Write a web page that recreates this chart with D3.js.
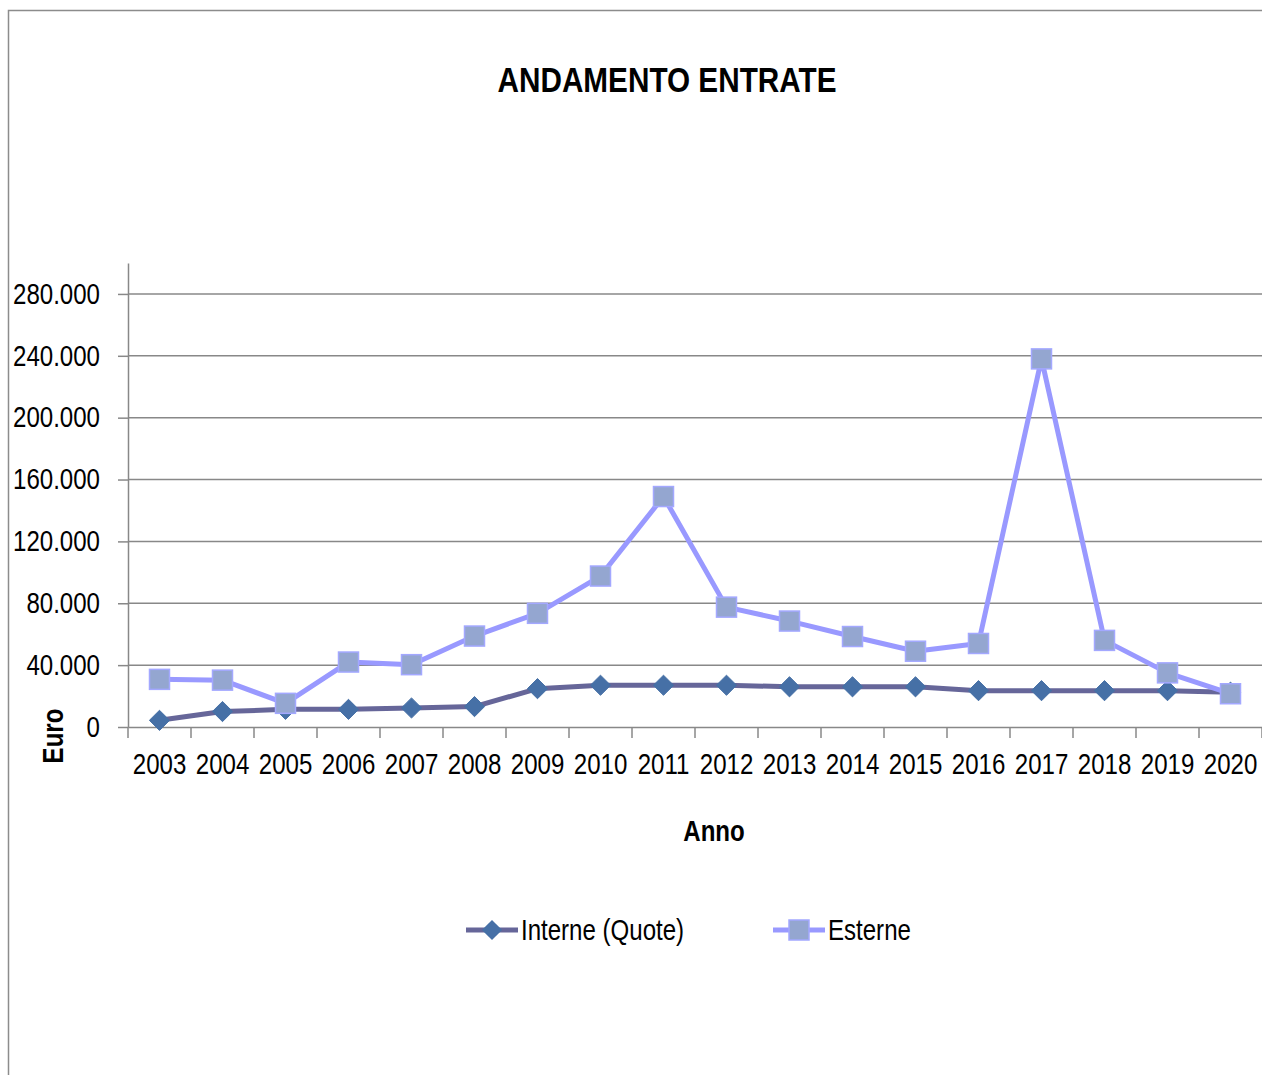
<!DOCTYPE html>
<html>
<head>
<meta charset="utf-8">
<script src="https://cdn.jsdelivr.net/npm/d3@7"></script>
<style>
  html, body { margin: 0; padding: 0; background: #fff; }
  svg { display: block; }
  text { font-family: "Liberation Sans", Arial, sans-serif; fill: #000; }
</style>
</head>
<body>
<svg id="chart" width="1262" height="1075"></svg>
<script>
const title = "ANDAMENTO ENTRATE";
const xTitle = "Anno";
const yTitle = "Euro";
const years = ["2003","2004","2005","2006","2007","2008","2009","2010","2011","2012","2013","2014","2015","2016","2017","2018","2019","2020"];
const interne = [4300, 10000, 11400, 11400, 12300, 13200, 24800, 27000, 27000, 27000, 26000, 26000, 26000, 23500, 23500, 23500, 23500, 22500];
const esterne = [30800, 30300, 15300, 42000, 40300, 58800, 73500, 97600, 149000, 77500, 68500, 58500, 49000, 54000, 238000, 56000, 35000, 21500];
const yTicks = [0, 40000, 80000, 120000, 160000, 200000, 240000, 280000];
const seriesNames = ["Interne (Quote)", "Esterne"];

const SX = 0.83; // horizontal condensation to mimic Arial Narrow
const FS = 29;
const svg = d3.select("#chart");
const m = { left: 128, right: 1262, top: 263, bottom: 727 };

// outer frame
svg.append("path")
  .attr("d", `M8.5,1075 V10.5 H1262`)
  .attr("fill", "none").attr("stroke", "#8c8c8c").attr("stroke-width", 1.5);

const x = d3.scaleBand().domain(years).range([m.left, m.right]).padding(0);
const y = d3.scaleLinear().domain([0, 300000]).range([m.bottom, m.top]);

const it = d3.formatLocale({ decimal: ",", thousands: ".", grouping: [3], currency: ["€", ""] });
const fmt = it.format(",.0f");

function condense(sel) {
  sel.each(function () {
    const t = d3.select(this);
    const xv = +t.attr("x") || 0;
    t.attr("x", xv / SX).attr("transform", `scale(${SX},1)`);
  });
}
function narrowText(parent, px, py, str, opts = {}) {
  const t = parent.append("text")
    .attr("transform", `translate(${px},${py})${opts.rotate ? ` rotate(${opts.rotate})` : ""} scale(${SX},1)`)
    .attr("text-anchor", opts.anchor || "start")
    .attr("font-size", opts.size || FS)
    .text(str);
  if (opts.bold) t.attr("font-weight", "bold");
  return t;
}

// gridlines
svg.append("g").selectAll("line").data(yTicks.filter(d => d > 0)).join("line")
  .attr("x1", m.left).attr("x2", m.right)
  .attr("y1", d => y(d)).attr("y2", d => y(d))
  .attr("stroke", "#888").attr("stroke-width", 1.5);

// y axis
const yAxis = svg.append("g").attr("transform", `translate(${m.left},0)`)
  .call(d3.axisLeft(y).tickValues(yTicks).tickFormat(fmt).tickSize(10).tickSizeOuter(0).tickPadding(18));
yAxis.select(".domain").attr("stroke", "#888").attr("stroke-width", 1.5);
yAxis.selectAll(".tick line").attr("stroke", "#888").attr("stroke-width", 1.5);
yAxis.selectAll(".tick text").attr("font-size", FS).attr("fill", "#000")
  .style("font-family", '"Liberation Sans", Arial, sans-serif').call(condense);

// x axis
const xAxis = svg.append("g").attr("transform", `translate(0,${m.bottom})`)
  .call(d3.axisBottom(x).tickSize(0).tickPadding(26));
xAxis.select(".domain").attr("stroke", "#888").attr("stroke-width", 1.5);
xAxis.selectAll(".tick text").attr("font-size", FS).attr("fill", "#000")
  .style("font-family", '"Liberation Sans", Arial, sans-serif').call(condense);
// category boundary ticks
svg.append("g").selectAll("line").data(d3.range(years.length + 1)).join("line")
  .attr("x1", i => m.left + i * x.step()).attr("x2", i => m.left + i * x.step())
  .attr("y1", m.bottom).attr("y2", m.bottom + 11)
  .attr("stroke", "#888").attr("stroke-width", 1.5);

const cx = d => x(d) + x.bandwidth() / 2;
const line = d3.line().x(d => cx(d[0])).y(d => y(d[1]));

const intData = years.map((yr, i) => [yr, interne[i]]);
const estData = years.map((yr, i) => [yr, esterne[i]]);

// Interne line + diamonds
svg.append("path").datum(intData).attr("d", line)
  .attr("fill", "none").attr("stroke", "#666699").attr("stroke-width", 5).attr("stroke-linejoin", "round");
const diamond = d3.symbol().type(d3.symbolDiamond2).size(260);
svg.append("g").selectAll("path").data(intData).join("path")
  .attr("transform", d => `translate(${cx(d[0])},${y(d[1])})`)
  .attr("d", diamond).attr("fill", "#4670a6").attr("stroke", "#4670a6").attr("stroke-width", 1);

// Esterne line + squares
svg.append("path").datum(estData).attr("d", line)
  .attr("fill", "none").attr("stroke", "#9999ff").attr("stroke-width", 5).attr("stroke-linejoin", "round");
svg.append("g").selectAll("rect").data(estData).join("rect")
  .attr("x", d => cx(d[0]) - 10).attr("y", d => y(d[1]) - 10)
  .attr("width", 20).attr("height", 20)
  .attr("fill", "#94a6d0").attr("stroke", "#a3a8ff").attr("stroke-width", 1.5);

// title
svg.append("text").attr("x", 667).attr("y", 92).attr("text-anchor", "middle")
  .attr("font-size", 35).attr("font-weight", "bold")
  .attr("textLength", 339).attr("lengthAdjust", "spacingAndGlyphs")
  .text(title);

// axis titles
narrowText(svg, 714, 841, xTitle, { anchor: "middle", bold: true });
narrowText(svg, 63, 736, yTitle, { anchor: "middle", bold: true, rotate: -90 });

// legend
const legItems = [
  { name: seriesNames[0], x0: 466, stroke: "#666699", mark: "diamond" },
  { name: seriesNames[1], x0: 773, stroke: "#9999ff", mark: "square" }
];
legItems.forEach(li => {
  const g = svg.append("g");
  g.append("line").attr("x1", li.x0).attr("x2", li.x0 + 52).attr("y1", 930).attr("y2", 930)
    .attr("stroke", li.stroke).attr("stroke-width", 5);
  if (li.mark === "diamond") {
    g.append("path").attr("transform", `translate(${li.x0 + 26},930)`).attr("d", diamond)
      .attr("fill", "#4670a6");
  } else {
    g.append("rect").attr("x", li.x0 + 16).attr("y", 920).attr("width", 20).attr("height", 20)
      .attr("fill", "#94a6d0").attr("stroke", "#a3a8ff").attr("stroke-width", 1.5);
  }
  narrowText(g, li.x0 + 55, 940, li.name);
});
</script>
</body>
</html>
